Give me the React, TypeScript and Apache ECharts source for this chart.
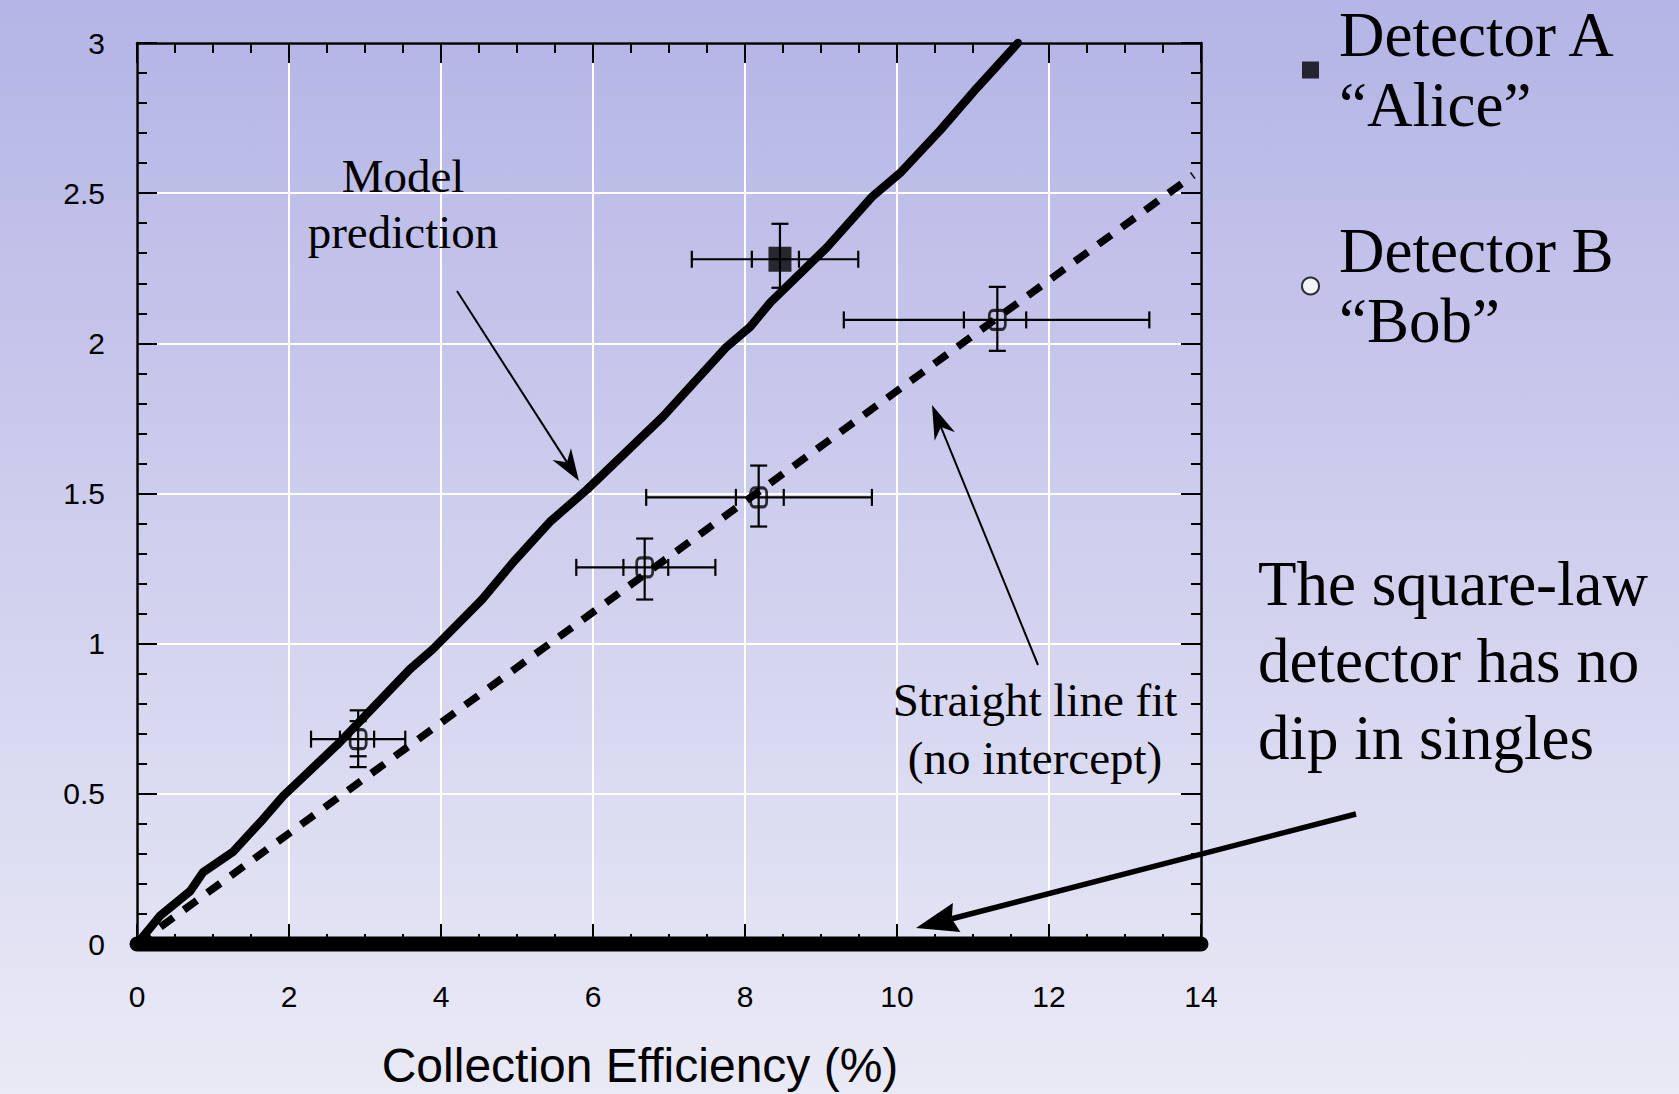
import React, { useEffect, useRef } from 'react';
import * as echarts from 'echarts';

const SANS = '"Liberation Sans", Arial, Helvetica, sans-serif';
const SERIF = '"Liberation Serif", "Times New Roman", Times, serif';

// Model prediction curve
const modelX = [0, 0.3, 0.7, 0.87, 1.26, 1.66, 1.92, 2.67, 3.59, 3.89, 4.54, 4.96, 5.43, 5.92, 6.92, 7.76, 8.07, 8.33, 9.08, 9.68, 10.04, 10.57, 11.05, 11.32, 11.59];
const modelY = [0, 0.093, 0.176, 0.239, 0.306, 0.416, 0.492, 0.672, 0.915, 0.981, 1.147, 1.274, 1.405, 1.513, 1.756, 1.989, 2.055, 2.135, 2.32, 2.49, 2.567, 2.71, 2.85, 2.925, 3.0];

// Straight line fit (no intercept)
const fitX = [0, 13.9];
const fitY = [0, 2.56];

// Square-law detector singles (no dip)
const zeroX = [0, 14];
const zeroY = [0, 0];

// Detector A "Alice"
const aliceX = [8.46];
const aliceY = [2.28];
const aliceXOuter = [[7.3, 9.49]];
const aliceXInner = [[8.09, 8.71]];
const aliceYOuter = [[2.185, 2.398]];
const aliceYInner = [[null, null]];

// Detector B "Bob"
const bobX = [2.91, 6.68, 8.18, 11.32];
const bobY = [0.682, 1.254, 1.487, 2.078];
const bobXOuter = [[2.29, 3.53], [5.78, 7.61], [6.7, 9.67], [9.3, 13.32]];
const bobXInner = [[2.67, 3.12], [6.4, 6.99], [7.88, 8.51], [10.88, 11.7]];
const bobYOuter = [[0.589, 0.778], [1.147, 1.35], [1.39, 1.593], [1.975, 2.188]];
const bobYInner = [[0.625, 0.742], [null, null], [null, null], [null, null]];

const xTicks = { min: 0, max: 14, interval: 2 };
const yTicks = { min: 0, max: 3, interval: 0.5 };

const nameA = 'Detector A “Alice”';
const nameB = 'Detector B “Bob”';

function errRows(xs: number[], ys: number[], xo: any[], xi: any[], yo: any[], yi: any[]) {
  return xs.map((x, i) => [x, ys[i], xo[i][0], xo[i][1], xi[i][0], xi[i][1], yo[i][0], yo[i][1], yi[i][0], yi[i][1]]);
}

function renderErr(params: any, api: any) {
  const v = (d: number) => api.value(d);
  const x = v(0), y = v(1);
  const c = api.coord([x, y]);
  const style = { stroke: '#000', lineWidth: 2.2 };
  const cap = 8.5;
  const ch: any[] = [];
  const ok = (n: any) => typeof n === 'number' && isFinite(n);
  const hbar = (a: number, b: number, caps: boolean, line: boolean) => {
    if (!ok(a) || !ok(b)) return;
    const pa = api.coord([a, y]);
    const pb = api.coord([b, y]);
    if (line) ch.push({ type: 'line', shape: { x1: pa[0], y1: c[1], x2: pb[0], y2: c[1] }, style });
    if (caps) {
      ch.push({ type: 'line', shape: { x1: pa[0], y1: c[1] - cap, x2: pa[0], y2: c[1] + cap }, style });
      ch.push({ type: 'line', shape: { x1: pb[0], y1: c[1] - cap, x2: pb[0], y2: c[1] + cap }, style });
    }
  };
  const vbar = (a: number, b: number, caps: boolean, line: boolean) => {
    if (!ok(a) || !ok(b)) return;
    const pa = api.coord([x, a]);
    const pb = api.coord([x, b]);
    if (line) ch.push({ type: 'line', shape: { x1: c[0], y1: pa[1], x2: c[0], y2: pb[1] }, style });
    if (caps) {
      ch.push({ type: 'line', shape: { x1: c[0] - cap, y1: pa[1], x2: c[0] + cap, y2: pa[1] }, style });
      ch.push({ type: 'line', shape: { x1: c[0] - cap, y1: pb[1], x2: c[0] + cap, y2: pb[1] }, style });
    }
  };
  hbar(v(2), v(3), true, true);
  hbar(v(4), v(5), true, false);
  vbar(v(6), v(7), true, true);
  vbar(v(8), v(9), true, false);
  return { type: 'group', children: ch };
}

function arrow(x1: number, y1: number, x2: number, y2: number, lw: number, hl: number, hw: number, notch: number) {
  const dx = x2 - x1, dy = y2 - y1;
  const L = Math.sqrt(dx * dx + dy * dy);
  const ux = dx / L, uy = dy / L;
  const nx = -uy, ny = ux;
  const bx = x2 - ux * hl, by = y2 - uy * hl;
  const mx = x2 - ux * hl * (1 - notch), my = y2 - uy * hl * (1 - notch);
  return [
    { type: 'line', z: 100, shape: { x1, y1, x2: mx, y2: my }, style: { stroke: '#000', lineWidth: lw } },
    {
      type: 'polygon', z: 100,
      shape: { points: [[x2, y2], [bx + nx * hw / 2, by + ny * hw / 2], [mx, my], [bx - nx * hw / 2, by - ny * hw / 2]] },
      style: { fill: '#000' },
    },
  ];
}

const axisLineStyle = { color: '#000', width: 2.5 };
const tickStyle = { color: '#000', width: 2 };

export default function App() {
  const ref = useRef<HTMLDivElement>(null);
  useEffect(() => {
    if (!ref.current) return;
    const chart = echarts.init(ref.current, null, { renderer: 'svg' });
    const grid = { left: 137, top: 43, width: 1064, height: 902 };
    const option: any = {
      animation: false,
      backgroundColor: {
        type: 'linear', x: 0, y: 0, x2: 0, y2: 1,
        colorStops: [{ offset: 0, color: '#b4b4e6' }, { offset: 1, color: '#eaeaf6' }],
      },
      grid,
      legend: {
        orient: 'vertical', left: 1301, top: 0, padding: 0, itemGap: 76,
        itemWidth: 17, itemHeight: 17, selectedMode: false,
        formatter: (n: string) => n.replace(' “', '\n“'),
        textStyle: { fontFamily: SERIF, fontSize: 63, lineHeight: 70, color: '#000', padding: [0, 0, 0, 15] },
        data: [
          { name: nameA, icon: 'rect', itemStyle: { color: '#000', borderWidth: 0 } },
          { name: nameB, icon: 'circle', itemStyle: { color: '#fff', borderColor: '#000', borderWidth: 2 } },
        ],
      },
      xAxis: [
        {
          type: 'value', ...xTicks, position: 'bottom',
          axisLine: { show: true, onZero: false, lineStyle: axisLineStyle },
          axisTick: { show: true, inside: true, length: 20, lineStyle: tickStyle },
          minorTick: { show: true, splitNumber: 4, length: 10, lineStyle: tickStyle },
          splitLine: { show: true, lineStyle: { color: '#fff', width: 2 } },
          axisLabel: { fontSize: 30, color: '#000', fontFamily: SANS, margin: 37 },
          name: 'Collection Efficiency (%)', nameLocation: 'middle', nameGap: 97,
          nameTextStyle: { fontSize: 48, color: '#000', fontFamily: SANS, padding: [0, 58, 0, 0] },
        },
        {
          type: 'value', ...xTicks, position: 'top',
          axisLine: { show: true, onZero: false, lineStyle: axisLineStyle },
          axisTick: { show: true, inside: true, length: 20, lineStyle: tickStyle },
          minorTick: { show: true, splitNumber: 4, length: 10, lineStyle: tickStyle },
          splitLine: { show: false }, axisLabel: { show: false },
        },
      ],
      yAxis: [
        {
          type: 'value', ...yTicks, position: 'left',
          axisLine: { show: true, onZero: false, lineStyle: axisLineStyle },
          axisTick: { show: true, inside: true, length: 20, lineStyle: tickStyle },
          minorTick: { show: true, splitNumber: 5, length: 10, lineStyle: tickStyle },
          splitLine: { show: true, lineStyle: { color: '#fff', width: 2 } },
          axisLabel: { fontSize: 30, color: '#000', fontFamily: SANS, margin: 32 },
        },
        {
          type: 'value', ...yTicks, position: 'right',
          axisLine: { show: true, onZero: false, lineStyle: axisLineStyle },
          axisTick: { show: true, inside: true, length: 20, lineStyle: tickStyle },
          minorTick: { show: true, splitNumber: 5, length: 10, lineStyle: tickStyle },
          splitLine: { show: false }, axisLabel: { show: false },
        },
      ],
      series: [
        {
          name: 'Model prediction', type: 'line', clip: false, showSymbol: false, symbol: 'none', z: 4,
          data: modelX.map((x, i) => [x, modelY[i]]),
          lineStyle: { color: '#000', width: 8.5, join: 'round', cap: 'round' },
        },
        {
          name: 'Straight line fit (no intercept)', type: 'line', clip: false, showSymbol: false, symbol: 'none', z: 4,
          data: fitX.map((x, i) => [x, fitY[i]]),
          lineStyle: { color: '#000', width: 7.5, type: [16, 13], cap: 'butt' },
        },
        {
          name: 'Square-law detector', type: 'line', clip: false, showSymbol: false, symbol: 'none', z: 6,
          data: zeroX.map((x, i) => [x, zeroY[i]]),
          lineStyle: { color: '#000', width: 15, cap: 'round' },
        },
        {
          name: 'Alice errors', type: 'custom', clip: false, z: 5,
          encode: { x: 0, y: 1 },
          renderItem: renderErr,
          data: errRows(aliceX, aliceY, aliceXOuter, aliceXInner, aliceYOuter, aliceYInner),
        },
        {
          name: 'Bob errors', type: 'custom', clip: false, z: 5,
          encode: { x: 0, y: 1 },
          renderItem: renderErr,
          data: errRows(bobX, bobY, bobXOuter, bobXInner, bobYOuter, bobYInner),
        },
        {
          name: nameA, type: 'scatter', symbol: 'rect', symbolSize: [23, 25], z: 7,
          itemStyle: { color: '#000' },
          data: aliceX.map((x, i) => [x, aliceY[i]]),
        },
        {
          name: nameB, type: 'scatter', symbol: 'roundRect', symbolSize: [16, 19], z: 7,
          itemStyle: { color: 'rgba(0,0,0,0)', borderColor: '#000', borderWidth: 3 },
          data: bobX.map((x, i) => [x, bobY[i]]),
        },
      ],
      graphic: [
        {
          type: 'text', x: 403, y: 203.5, z: 100,
          style: { text: 'Model\nprediction', fontFamily: SERIF, fontSize: 47, lineHeight: 56, align: 'center', verticalAlign: 'middle', fill: '#000' },
        },
        {
          type: 'text', x: 1035, y: 728.5, z: 100,
          style: { text: 'Straight line fit\n(no intercept)', fontFamily: SERIF, fontSize: 47, lineHeight: 58, align: 'center', verticalAlign: 'middle', fill: '#000' },
        },
        {
          type: 'text', x: 1258, y: 660.5, z: 100,
          style: { text: 'The square-law\ndetector has no\ndip in singles', fontFamily: SERIF, fontSize: 63, lineHeight: 77, align: 'left', verticalAlign: 'middle', fill: '#000' },
        },
        ...arrow(457, 291, 579, 481, 2, 32, 22, 0.3),
        ...arrow(1038, 665, 932, 405, 2, 34, 22, 0.3),
        ...arrow(1356, 814, 916, 928, 5.5, 42, 30, 0.12),
      ],
    };
    chart.setOption(option);
    return () => chart.dispose();
  }, []);
  return (
    <div
      ref={ref}
      style={{ position: 'fixed', left: 0, top: 0, width: 1679, height: 1094 }}
    />
  );
}
